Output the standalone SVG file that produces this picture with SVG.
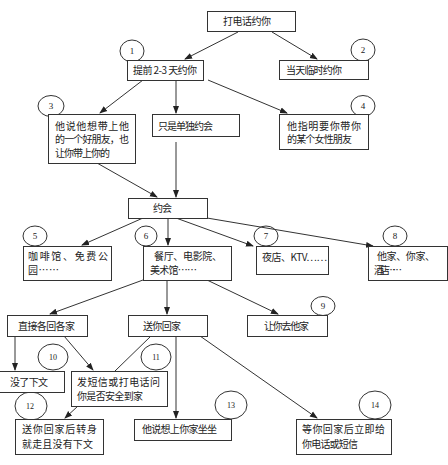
<svg xmlns="http://www.w3.org/2000/svg" width="448" height="465" viewBox="0 0 448 465">
<defs>
<marker id="ah" markerUnits="userSpaceOnUse" markerWidth="8" markerHeight="8" viewBox="0 0 8 8" refX="7" refY="4" orient="auto">
<path d="M0,1 L8,4 L0,7 Z" fill="#222"/>
</marker>
</defs>
<style>
rect{fill:#fff;stroke:#333;stroke-width:1}
ellipse{fill:#fff;stroke:#333;stroke-width:1}
.c line{stroke:#333;stroke-width:1}
.c .a{marker-end:url(#ah)}
text{font-family:"Noto Sans CJK SC","Noto Sans",sans-serif;font-size:10px;fill:#222}
text.n{font-family:"Liberation Serif",serif;font-size:9px;text-anchor:middle}
</style>
<rect x="0" y="0" width="448" height="465" style="fill:#fff;stroke:none"/>
<g id="markers">
<ellipse cx="132" cy="51" rx="12" ry="11"/><text class="n" x="132" y="54">1</text>
<ellipse cx="363" cy="50" rx="12" ry="11"/><text class="n" x="363" y="53">2</text>
<ellipse cx="51" cy="106" rx="13" ry="10.5"/><text class="n" x="51" y="109">3</text>
<ellipse cx="363" cy="106" rx="12" ry="10.5"/><text class="n" x="363" y="109">4</text>
<ellipse cx="35" cy="236" rx="12" ry="10"/><text class="n" x="35" y="239">5</text>
<ellipse cx="146" cy="236" rx="11" ry="10"/><text class="n" x="146" y="239">6</text>
<ellipse cx="266" cy="236" rx="12" ry="10"/><text class="n" x="266" y="239">7</text>
<ellipse cx="395" cy="236" rx="12" ry="10"/><text class="n" x="395" y="239">8</text>
<ellipse cx="323" cy="306" rx="12" ry="9.5"/><text class="n" x="323" y="309">9</text>
<ellipse cx="53" cy="357" rx="15" ry="13"/><text class="n" x="53" y="360" style="font-size:8px">10</text>
<ellipse cx="156" cy="357" rx="15" ry="13"/><text class="n" x="156" y="360" style="font-size:8px">11</text>
<ellipse cx="31" cy="406" rx="16" ry="14"/><text class="n" x="30" y="409" style="font-size:8px">12</text>
<ellipse cx="231" cy="405" rx="16" ry="14"/><text class="n" x="231" y="408" style="font-size:8px">13</text>
<ellipse cx="375" cy="405" rx="16" ry="14"/><text class="n" x="375" y="408" style="font-size:8px">14</text>
</g>
<g id="connectors" class="c">
<line class="a" x1="238" y1="32" x2="185" y2="59"/>
<line class="a" x1="272" y1="32" x2="317" y2="59"/>
<line class="a" x1="143" y1="80" x2="100" y2="113"/>
<line class="a" x1="176" y1="80" x2="176" y2="113"/>
<line class="a" x1="208" y1="80" x2="287" y2="113"/>
<line class="a" x1="97" y1="163" x2="157" y2="197"/>
<line class="a" x1="176" y1="142" x2="176" y2="197"/>
<line class="a" x1="143" y1="218" x2="82" y2="245"/>
<line class="a" x1="168" y1="218" x2="168" y2="245"/>
<line class="a" x1="176" y1="218" x2="253" y2="246"/>
<line class="a" x1="207" y1="218" x2="373" y2="246"/>
<line class="a" x1="143" y1="280" x2="50" y2="314"/>
<line class="a" x1="167" y1="280" x2="167" y2="314"/>
<line class="a" x1="207" y1="280" x2="278" y2="314"/>
<line class="a" x1="15" y1="336" x2="15" y2="370"/>
<line class="a" x1="64" y1="336" x2="93" y2="370"/>
<line x1="151" y1="336" x2="115" y2="371"/>
<line class="a" x1="176" y1="336" x2="176" y2="418"/>
<line class="a" x1="200" y1="336" x2="317" y2="418"/>
<line class="a" x1="78" y1="406" x2="65" y2="418"/>
</g>
<g id="n0"><rect x="207.5" y="11.5" width="88" height="20"/><text x="223" y="25" textLength="48">打电话约你</text></g>
<g id="n1"><rect x="127.5" y="60.5" width="76" height="20"/><text x="133" y="74" textLength="64">提前 2-3 天约你</text></g>
<g id="n2"><rect x="279.5" y="60.5" width="89" height="19"/><text x="286" y="74" textLength="56">当天临时约你</text></g>
<g id="n3"><rect x="48.5" y="114.5" width="87" height="49"/>
<text x="55" y="129.5" textLength="74">他说他想带上他</text>
<text x="55" y="143" textLength="74">的一个好朋友，也</text>
<text x="55" y="156.5" textLength="55">让你带上你的</text></g>
<g id="n4"><rect x="152.5" y="114.5" width="87" height="22"/><text x="158" y="130" textLength="55">只是单独约会</text></g>
<g id="n5"><rect x="279.5" y="114.5" width="89" height="35"/>
<text x="287" y="129.5" textLength="74">他指明要你带你</text>
<text x="287" y="143" textLength="65">的某个女性朋友</text></g>
<g id="n6"><rect x="128.5" y="198.5" width="79" height="20"/><text x="153" y="212" textLength="19">约会</text></g>
<g id="n7"><rect x="23.5" y="246.5" width="88" height="34"/>
<text x="28" y="259.5" textLength="80">咖啡馆、免费公</text>
<text x="28" y="273.5" textLength="31">园……</text></g>
<g id="n8"><rect x="143.5" y="246.5" width="88" height="34"/>
<text x="154" y="259.5" textLength="68">餐厅、电影院、</text>
<text x="150" y="273.5" textLength="47">美术馆……</text></g>
<g id="n9"><rect x="256.5" y="246.5" width="72" height="28"/><text x="262" y="261" textLength="65">夜店、KTV……</text></g>
<g id="n10"><rect x="368.5" y="246.5" width="79" height="34"/>
<text x="377" y="259.5" textLength="58">他家、你家、</text>
<text x="374" y="273.5" textLength="28">酒店……</text></g>
<g id="n11"><rect x="7.5" y="315.5" width="80" height="21"/><text x="18" y="330" textLength="57">直接各回各家</text></g>
<g id="n12"><rect x="128.5" y="315.5" width="79" height="21"/><text x="143" y="330" textLength="38">送你回家</text></g>
<g id="n13"><rect x="247.5" y="315.5" width="80" height="21"/><text x="264" y="330" textLength="45">让你去他家</text></g>
<g id="n14"><rect x="-1" y="371.5" width="65.5" height="21"/><text x="10" y="386" textLength="38">没了下文</text></g>
<g id="n15"><rect x="71.5" y="371.5" width="96" height="35"/>
<text x="77" y="386" textLength="83">发短信或打电话问</text>
<text x="77" y="400" textLength="66">你是否安全到家</text></g>
<g id="n16"><rect x="15.5" y="419.5" width="88" height="35"/>
<text x="22" y="433" textLength="75">送你回家后转身</text>
<text x="22" y="448" textLength="71">就走且没有下文</text></g>
<g id="n17"><rect x="134.5" y="419.5" width="97" height="21"/><text x="142" y="433" textLength="75">他说想上你家坐坐</text></g>
<g id="n18"><rect x="296.5" y="419.5" width="95" height="35"/>
<text x="302" y="433" textLength="83">等你回家后立即给</text>
<text x="302" y="448" textLength="56">你电话或短信</text></g>
</svg>
